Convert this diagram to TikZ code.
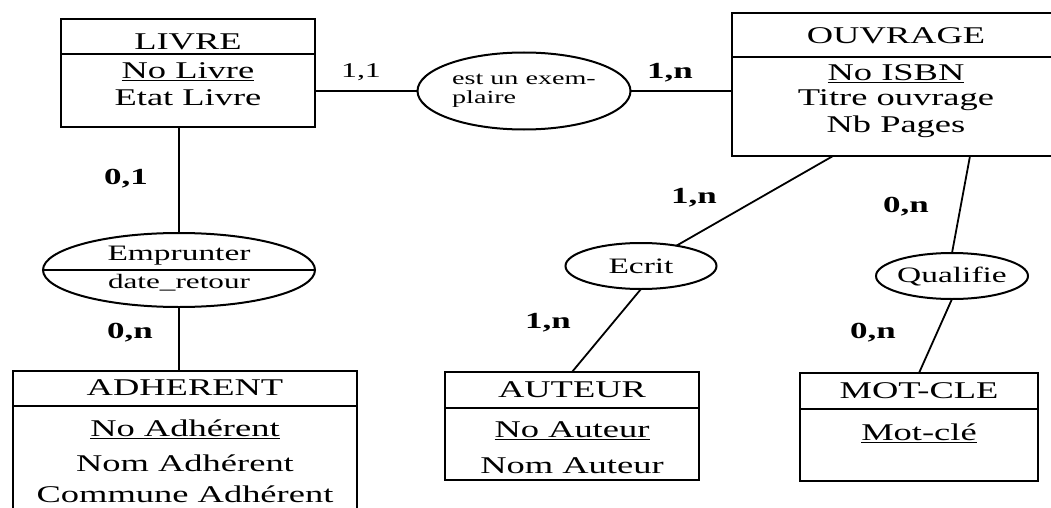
\documentclass[tikz,border=0pt]{standalone}
\usepackage{fontspec}
\setmainfont{Liberation Serif}[FakeStretch=1.52]
\usetikzlibrary{shapes.geometric}
\begin{document}
\begin{tikzpicture}[x=1pt,y=-1pt,
  entity/.style={draw, line width=2.2pt, rectangle, anchor=north west, outer sep=0pt, inner sep=0pt},
  rel/.style={draw, line width=2pt, ellipse, inner sep=0pt, outer sep=0pt},
  rule/.style={line width=2pt},
  link/.style={line width=1.8pt},
  etitle/.style={inner sep=0pt, font=\fontsize{24}{26}\selectfont},
  attr/.style={inner sep=0pt, font=\fontsize{24}{26}\selectfont},
  rname/.style={inner sep=0pt, font=\fontsize{22}{24}\selectfont},
  card/.style={inner sep=0pt, font=\fontsize{23}{25}\selectfont\bfseries},
]
\clip (0,0) rectangle (1051,508);
\fill[white] (0,0) rectangle (1051,508);

% ---------- entities ----------
\node[entity, minimum width=254, minimum height=108] (livre) at (61,19) {};
\draw[rule] (livre.west |- 0,54) -- (livre.east |- 0,54);
\node[etitle] (livreT) at (188,42) {LIVRE};
\node[attr] (livreA) at (188,72) {\underline{No Livre}};
\node[attr] (livreB) at (188,98) {Etat Livre};

\node[entity, minimum width=330, minimum height=143] (ouvrage) at (732,13) {};
\draw[rule] (ouvrage.west |- 0,57) -- (ouvrage.east |- 0,57);
\node[etitle] (ouvrageT) at (896,36) {OUVRAGE};
\node[attr] (ouvrageA) at (896,74) {\underline{No ISBN}};
\node[attr] (ouvrageB) at (896,100) {Titre ouvrage};
\node[attr] (ouvrageC) at (896,127) {Nb Pages};

\node[entity, minimum width=344, minimum height=160] (adh) at (13,371) {};
\draw[rule] (adh.west |- 0,406) -- (adh.east |- 0,406);
\node[etitle] (adhT) at (185,388) {ADHERENT};
\node[attr] (adhA) at (185,429) {\underline{No Adhérent}};
\node[attr] (adhB) at (185,463) {Nom Adhérent};
\node[attr] (adhC) at (185,494) {Commune Adhérent};

\node[entity, minimum width=254, minimum height=108] (auteur) at (445,372) {};
\draw[rule] (auteur.west |- 0,408) -- (auteur.east |- 0,408);
\node[etitle] (auteurT) at (572,390) {AUTEUR};
\node[attr] (auteurA) at (572,431) {\underline{No Auteur}};
\node[attr] (auteurB) at (572,466) {Nom Auteur};

\node[entity, minimum width=238, minimum height=108] (mot) at (800,373) {};
\draw[rule] (mot.west |- 0,409) -- (mot.east |- 0,409);
\node[etitle] (motT) at (919,391) {MOT-CLE};
\node[attr] (motA) at (919,433) {\underline{Mot-clé}};

% ---------- associations ----------
\node[rel, minimum width=213, minimum height=77, align=left,
      font=\fontsize{18.5}{19}\selectfont] (expl) at (524,91) {est un exem-\\plaire};

\node[rel, minimum width=272, minimum height=74] (emp) at (179,270) {};
\draw[rule] (emp.west) -- (emp.east);
\node[rname] (empT) at (179,256) {Emprunter};
\node[rname, font=\fontsize{20.5}{22}\selectfont] (empA) at (179,283) {date\_retour};

\node[rel, minimum width=151, minimum height=46] (ecrit) at (641,266) {};
\node[rname] (ecritT) at (641,266) {Ecrit};

\node[rel, minimum width=152, minimum height=46] (qual) at (952,276) {};
\node[rname] (qualT) at (952,277) {Qualifie};

% ---------- connectors ----------
\draw[link] (expl.west -| livre.east) -- (expl.west);
\draw[link] (expl.east) -- (expl.east -| ouvrage.west);
\draw[link] (emp.north |- livre.south) -- (emp.north);
\draw[link] (emp.south) -- (emp.south |- adh.north);
\draw[link] (ouvrage.south -| 833,0) -- (ecrit);
\draw[link] (ecrit.south) -- (auteur.north);
\draw[link] (ouvrage.south -| 970,0) -- (qual.north);
\draw[link] (qual.south) -- (mot.north);

% ---------- cardinalities ----------
\node[card, font=\fontsize{21}{23}\selectfont] (c11) at (361,72) {1,1};
\node[card] (c1n) at (670,73) {1,n};
\node[card] (c01) at (126,179) {0,1};
\node[card] (c0n) at (130,333) {0,n};
\node[card] (c1na) at (694,198) {1,n};
\node[card] (c1nb) at (548,323) {1,n};
\node[card] (c0na) at (906,207) {0,n};
\node[card] (c0nb) at (873,333) {0,n};
\end{tikzpicture}
\end{document}
